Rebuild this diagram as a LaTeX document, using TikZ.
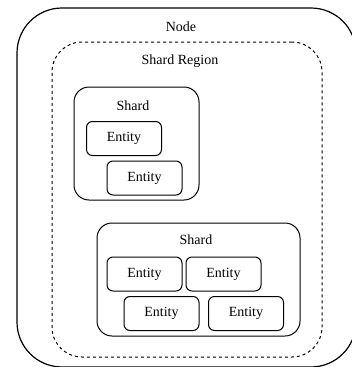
\documentclass[tikz,border=0pt]{standalone}
\usepackage{fontspec}
\setmainfont{Liberation Serif}
\usepackage{tikz}
\usetikzlibrary{positioning}

\tikzset{
  box/.style={draw, rounded corners=#1, line width=1pt, inner sep=0pt},
  entitybox/.style={box=6pt, minimum width=75pt, minimum height=34pt},
  lbl/.style={inner sep=0pt, font=\fontsize{14}{16}\selectfont},
}

\begin{document}
\begin{tikzpicture}[x=1pt,y=-1pt]
  \useasboundingbox (0,0) rectangle (352,367);
  \clip (0,0) rectangle (352,367);
  % outer node and shard region
  \node[box=45pt, line width=1.2pt, minimum width=339pt, minimum height=359pt] (node) at (186.5,187.5) {};
  \node[box=30pt, dashed, dash pattern=on 3pt off 3pt, minimum width=270pt, minimum height=315pt] (region) at (187,199.5) {};
  \node[lbl] (nodelbl) at (181,27) {Node};
  \node[lbl] (regionlbl) at (180,61) {Shard Region};
  % first shard
  \node[box=15pt, minimum width=125pt, minimum height=113pt] (shardA) at (136.5,143.5) {};
  \node[lbl] (shardAlbl) at (133,106) {Shard};
  \node[entitybox, lbl] (entA) at (124,138.5) {Entity};
  \node[entitybox, lbl] (entB) at (144.5,178) {Entity};
  % second shard
  \node[box=15pt, minimum width=203pt, minimum height=113pt] (shardB) at (198.5,279.5) {};
  \node[lbl] (shardBlbl) at (196,240) {Shard};
  \foreach \n/\x/\y in {C/144.5/274, D/223.5/274, E/161.5/313.5, F/246/313.5}
    \node[entitybox, lbl] (ent\n) at (\x,\y) {Entity};
\end{tikzpicture}
\end{document}
